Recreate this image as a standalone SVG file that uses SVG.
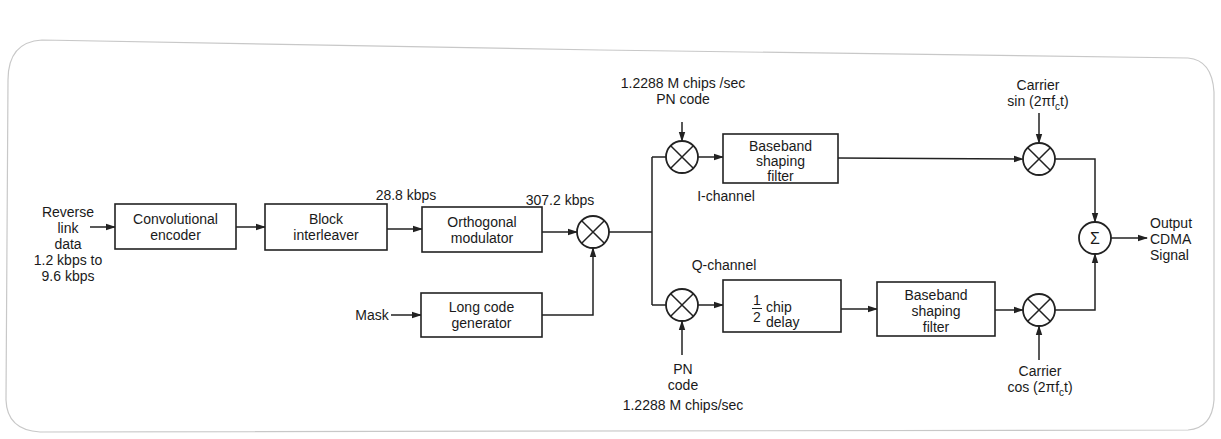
<svg xmlns="http://www.w3.org/2000/svg" width="1221" height="439" viewBox="0 0 1221 439">
<style>
.t{font-family:"Liberation Sans",Arial,sans-serif;font-size:14px;fill:#1a1a1a;text-anchor:middle}
.s{font-family:"Liberation Sans",Arial,sans-serif;font-size:10px;fill:#1a1a1a}
.b{fill:#fff;stroke:#222;stroke-width:1.6}
.c{fill:none;stroke:#222;stroke-width:1.5}
.m{fill:#fff;stroke:#222;stroke-width:1.8}
</style>
<defs>
<marker id="a" markerWidth="10" markerHeight="8" refX="9" refY="4" orient="auto" markerUnits="userSpaceOnUse">
<path d="M0,0.8 L10,4 L0,7.2 Z" fill="#222"/>
</marker>
<g id="x"><circle r="16" class="m"/><path d="M-11.3,-11.3 L11.3,11.3 M-11.3,11.3 L11.3,-11.3" class="c"/></g>
</defs>
<rect width="1221" height="439" fill="#fff"/>
<path d="M8,80 Q8,42 42,40 L600,50 L1188,58 Q1212,60 1214,92 L1214,400 Q1212,428 1188,430 L40,432 Q7,430 6,400 Z" fill="none" stroke="#c8c8c8" stroke-width="1.2"/>

<g id="connectors">
<path class="c" marker-end="url(#a)" d="M90,227 L115,227"/>
<path class="c" marker-end="url(#a)" d="M236,227 L265,227"/>
<path class="c" marker-end="url(#a)" d="M387,229 L422,229"/>
<path class="c" marker-end="url(#a)" d="M542,232 L577,232"/>
<path class="c" marker-end="url(#a)" d="M391,315 L421,315"/>
<path class="c" marker-end="url(#a)" d="M542,315 L593,315 L593,248"/>
<path class="c" d="M609,232 L652,232 M652,157 L652,305 M652,157 L666,157 M652,305 L666,305"/>
<path class="c" marker-end="url(#a)" d="M682,122 L682,141"/>
<path class="c" marker-end="url(#a)" d="M698,157 L723,157"/>
<path class="c" marker-end="url(#a)" d="M838,158 L1023,159"/>
<path class="c" marker-end="url(#a)" d="M1039,113 L1039,143"/>
<path class="c" marker-end="url(#a)" d="M1055,159 L1095,159 L1095,222"/>
<path class="c" marker-end="url(#a)" d="M698,305 L723,305"/>
<path class="c" marker-end="url(#a)" d="M682,355 L682,321"/>
<path class="c" marker-end="url(#a)" d="M841,309 L877,309"/>
<path class="c" marker-end="url(#a)" d="M995,310 L1023,310"/>
<path class="c" marker-end="url(#a)" d="M1039,360 L1039,326"/>
<path class="c" marker-end="url(#a)" d="M1055,310 L1095,310 L1095,254"/>
<path class="c" marker-end="url(#a)" d="M1111,238 L1147,238"/>
</g>

<g id="input">
<text class="t" x="68" y="217">Reverse</text>
<text class="t" x="68" y="233">link</text>
<text class="t" x="68" y="249">data</text>
<text class="t" x="68" y="265">1.2 kbps to</text>
<text class="t" x="68" y="281">9.6 kbps</text>
</g>
<g id="conv"><rect class="b" x="115" y="204" width="121" height="45"/><text class="t" x="175.5" y="224">Convolutional</text><text class="t" x="175.5" y="240">encoder</text></g>
<g id="block"><rect class="b" x="265" y="204" width="122" height="46"/><text class="t" x="326" y="224">Block</text><text class="t" x="326" y="240">interleaver</text></g>
<g id="rate1"><text class="t" x="406" y="200">28.8 kbps</text></g>
<g id="orth"><rect class="b" x="422" y="207" width="120" height="45"/><text class="t" x="482" y="227">Orthogonal</text><text class="t" x="482" y="243">modulator</text></g>
<g id="rate2"><text class="t" x="560" y="205">307.2 kbps</text></g>
<g id="mask"><text class="t" x="372" y="320">Mask</text></g>
<g id="longcode"><rect class="b" x="421" y="293" width="121" height="44"/><text class="t" x="481.5" y="312">Long code</text><text class="t" x="481.5" y="328">generator</text></g>
<g id="mix0"><use href="#x" x="593" y="232"/></g>

<g id="pnI"><text class="t" x="683" y="88">1.2288 M chips /sec</text><text class="t" x="683" y="104">PN code</text></g>
<g id="mixI"><use href="#x" x="682" y="157"/></g>
<g id="bb1"><rect class="b" x="723" y="134" width="115" height="49"/><text class="t" x="780.5" y="151">Baseband</text><text class="t" x="780.5" y="166">shaping</text><text class="t" x="780.5" y="181">filter</text></g>
<g id="ich"><text class="t" x="726" y="201">I-channel</text></g>

<g id="qch"><text class="t" x="724" y="270">Q-channel</text></g>
<g id="mixQ"><use href="#x" x="682" y="305"/></g>
<g id="pnQ"><text class="t" x="683" y="374">PN</text><text class="t" x="683" y="390">code</text><text class="t" x="683" y="410">1.2288 M chips/sec</text></g>
<g id="delay"><rect class="b" x="723" y="280" width="118" height="52"/>
<text class="t" x="757" y="305">1</text><path d="M752,308.5 L762,308.5" stroke="#222" stroke-width="1"/><text class="t" x="757" y="322">2</text>
<text class="t" x="766" y="312" style="text-anchor:start">chip</text><text class="t" x="766" y="327" style="text-anchor:start">delay</text></g>
<g id="bb2"><rect class="b" x="877" y="282" width="118" height="54"/><text class="t" x="936" y="300">Baseband</text><text class="t" x="936" y="316">shaping</text><text class="t" x="936" y="332">filter</text></g>

<g id="carS"><text class="t" x="1038" y="90">Carrier</text><text class="t" x="1038" y="106">sin (2πf<tspan class="s" dy="4">c</tspan><tspan dy="-4">t)</tspan></text></g>
<g id="mixS"><use href="#x" x="1039" y="159"/></g>
<g id="mixC"><use href="#x" x="1039" y="310"/></g>
<g id="carC"><text class="t" x="1040" y="376">Carrier</text><text class="t" x="1040" y="392">cos (2πf<tspan class="s" dy="4">c</tspan><tspan dy="-4">t)</tspan></text></g>
<g id="sum"><circle cx="1095" cy="238" r="16" class="m"/><text class="t" x="1095" y="244" style="font-size:16px">Σ</text></g>
<g id="output"><text class="t" x="1150" y="228" style="text-anchor:start">Output</text><text class="t" x="1150" y="244" style="text-anchor:start">CDMA</text><text class="t" x="1150" y="260" style="text-anchor:start">Signal</text></g>
</svg>
